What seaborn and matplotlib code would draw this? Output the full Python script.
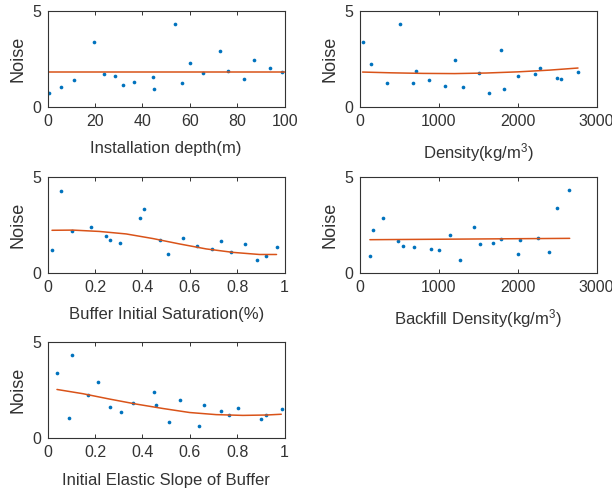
import numpy as np
import pandas as pd
import matplotlib
matplotlib.use("Agg")
import matplotlib.pyplot as plt
import seaborn as sns

# ---- data ----
depth_x = [0.7, 5.6, 11.1, 19.6, 23.7, 28.3, 31.8, 36.3, 44.6, 44.9, 53.8, 56.8, 60.0, 65.6, 72.7, 75.9, 83.0, 87.2, 93.7, 98.9]
depth_y = [0.73, 1.04, 1.40, 3.39, 1.70, 1.61, 1.11, 1.28, 1.54, 0.92, 4.31, 1.25, 2.27, 1.78, 2.92, 1.87, 1.44, 2.44, 2.01, 1.80]
depth_fit_x = [0.5, 100]
depth_fit_y = [1.80, 1.80]

dens_x = [38, 135, 338, 507, 676, 714, 879, 1082, 1204, 1310, 1504, 1639, 1791, 1821, 2003, 2214, 2281, 2501, 2552, 2763]
dens_y = [3.38, 2.25, 1.25, 4.29, 1.22, 1.86, 1.38, 1.08, 2.42, 1.01, 1.76, 0.70, 2.94, 0.91, 1.59, 1.71, 2.02, 1.52, 1.45, 1.81]
dens_fit_x = [34, 400, 800, 1200, 1600, 2000, 2400, 2763]
dens_fit_y = [1.81, 1.77, 1.74, 1.73, 1.76, 1.82, 1.91, 2.02]

sat_x = [0.018, 0.055, 0.103, 0.183, 0.244, 0.262, 0.306, 0.390, 0.408, 0.476, 0.506, 0.570, 0.632, 0.694, 0.732, 0.772, 0.832, 0.882, 0.920, 0.966]
sat_y = [1.19, 4.24, 2.20, 2.37, 1.92, 1.72, 1.56, 2.85, 3.33, 1.74, 0.98, 1.80, 1.39, 1.22, 1.65, 1.08, 1.49, 0.67, 0.88, 1.36]
sat_fit_x = [0.018, 0.106, 0.218, 0.331, 0.444, 0.556, 0.669, 0.782, 0.894, 0.966]
sat_fit_y = [2.22, 2.23, 2.16, 2.03, 1.79, 1.51, 1.25, 1.07, 0.96, 0.96]

back_x = [127, 165, 287, 486, 549, 684, 904, 1001, 1141, 1272, 1441, 1517, 1690, 1783, 2003, 2028, 2252, 2396, 2493, 2649]
back_y = [0.87, 2.24, 2.88, 1.66, 1.40, 1.35, 1.22, 1.19, 1.96, 0.68, 2.40, 1.50, 1.57, 1.75, 1.00, 1.71, 1.84, 1.07, 3.37, 4.30]
back_fit_x = [127, 2658]
back_fit_y = [1.73, 1.80]

slope_x = [0.039, 0.089, 0.104, 0.170, 0.214, 0.263, 0.308, 0.362, 0.448, 0.459, 0.514, 0.558, 0.637, 0.659, 0.730, 0.766, 0.803, 0.899, 0.923, 0.989]
slope_y = [3.37, 1.06, 4.33, 2.23, 2.90, 1.64, 1.34, 1.80, 2.40, 1.73, 0.85, 1.96, 0.65, 1.73, 1.40, 1.20, 1.57, 0.99, 1.18, 1.52]
slope_fit_x = [0.039, 0.148, 0.261, 0.373, 0.486, 0.599, 0.711, 0.824, 0.923, 0.986]
slope_fit_y = [2.53, 2.31, 2.03, 1.77, 1.54, 1.33, 1.22, 1.18, 1.20, 1.24]

panels = [
    ("Installation depth(m)", depth_x, depth_y, depth_fit_x, depth_fit_y, (0, 100), [0, 20, 40, 60, 80, 100]),
    ("Density(kg/m$^{3}$)", dens_x, dens_y, dens_fit_x, dens_fit_y, (0, 3000), [0, 1000, 2000, 3000]),
    ("Buffer Initial Saturation(%)", sat_x, sat_y, sat_fit_x, sat_fit_y, (0, 1), [0, 0.2, 0.4, 0.6, 0.8, 1]),
    ("Backfill Density(kg/m$^{3}$)", back_x, back_y, back_fit_x, back_fit_y, (0, 3000), [0, 1000, 2000, 3000]),
    ("Initial Elastic Slope of Buffer", slope_x, slope_y, slope_fit_x, slope_fit_y, (0, 1), [0, 0.2, 0.4, 0.6, 0.8, 1]),
]
tick_labels = {
    (0, 100): ["0", "20", "40", "60", "80", "100"],
    (0, 3000): ["0", "1000", "2000", "3000"],
    (0, 1): ["0", "0.2", "0.4", "0.6", "0.8", "1"],
}

sns.set_style("ticks")
plt.rcParams["font.family"] = ["Liberation Sans", "DejaVu Sans"]
plt.rcParams["mathtext.fontset"] = "custom"
plt.rcParams["mathtext.rm"] = "Liberation Sans"
plt.rcParams["mathtext.it"] = "Liberation Sans"

fig = plt.figure(figsize=(6.12, 4.9), dpi=100)
W = 0.387
H = 0.196
positions = [
    (0.078, 0.782), (0.588, 0.782),
    (0.078, 0.443), (0.588, 0.443),
    (0.078, 0.106),
]
dark = "#333333"
for (label, xs, ys, fx, fy, xlim, xt), (l, b) in zip(panels, positions):
    ax = fig.add_axes([l, b, W, H])
    sns.scatterplot(x=xs, y=ys, ax=ax, color="#0072BD", s=7, linewidth=0)
    sns.lineplot(x=fx, y=fy, ax=ax, color="#D95319", linewidth=1.1)
    ax.set_xlim(*xlim)
    ax.set_ylim(0, 5)
    ax.set_xticks(xt)
    ax.set_xticklabels(tick_labels[xlim])
    ax.set_yticks([0, 5])
    ax.set_yticklabels(["0", "5"])
    ax.tick_params(direction="in", top=True, right=True, length=3, width=0.7,
                   labelsize=11.5, colors=dark, labelcolor=dark, pad=5)
    for sp in ax.spines.values():
        sp.set_visible(True)
        sp.set_color(dark)
        sp.set_linewidth(0.8)
    ax.set_xlabel(label, fontsize=12, color=dark, labelpad=9)
    ax.set_ylabel("Noise", fontsize=13, color=dark, labelpad=4)

fig.savefig("out.png", dpi=100)
